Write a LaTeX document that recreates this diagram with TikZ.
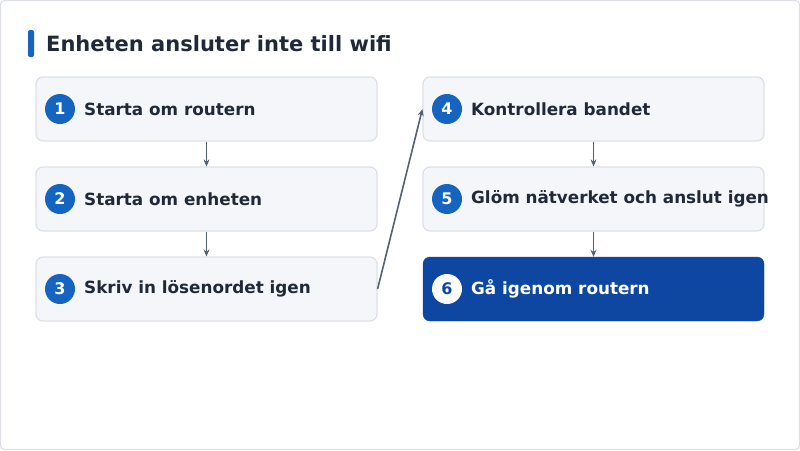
\documentclass[tikz,border=0pt]{standalone}
\usepackage{fontspec}
\setmainfont{DejaVu Sans}
\usetikzlibrary{arrows.meta}
\definecolor{boxfill}{HTML}{F5F6FA}
\definecolor{boxdraw}{HTML}{DDE1E7}
\definecolor{accent}{HTML}{1565C0}
\definecolor{dark}{HTML}{0D47A1}
\definecolor{txt}{HTML}{1F2937}
\definecolor{arr}{HTML}{556070}
\begin{document}
\begin{tikzpicture}[x=1pt,y=-1pt,
  stepbox/.style={draw=boxdraw,line width=1.2pt,fill=boxfill,rounded corners=7pt,minimum width=341pt,minimum height=64pt,inner sep=0pt},
  last/.style={fill=dark,draw=dark,rounded corners=7pt,minimum width=341pt,minimum height=64pt,inner sep=0pt},
  num/.style={circle,fill=accent,text=white,minimum size=30pt,inner sep=0pt,font=\bfseries\fontsize{16}{18}\selectfont},
  numw/.style={circle,fill=white,text=dark,minimum size=30pt,inner sep=0pt,font=\bfseries\fontsize{16}{18}\selectfont},
  lab/.style={anchor=west,text=txt,font=\bfseries\fontsize{16.8}{19}\selectfont,inner sep=0pt},
  con/.style={draw=arr,line width=1.6pt,-{Stealth[length=7pt,width=6pt]}}]
\useasboundingbox (0,0) rectangle (800,450);
\draw[draw=boxdraw,fill=white,line width=1.2pt,rounded corners=4pt] (0.5,0.5) rectangle (799.5,449.5);
\fill[accent,rounded corners=2pt] (28,30) rectangle (34,57);
\node[anchor=west,text=txt,font=\bfseries\fontsize{21}{24}\selectfont,inner sep=0pt] (title) at (46,44) {Enheten ansluter inte till wifi};
\node[stepbox] (b1) at (206.5,109) {};
\node[stepbox] (b2) at (206.5,199) {};
\node[stepbox] (b3) at (206.5,289) {};
\node[stepbox] (b4) at (593.5,109) {};
\node[stepbox] (b5) at (593.5,199) {};
\node[last] (b6) at (593.5,289) {};
\node[num] (n1) at (60,109) {1}; \node[lab] (t1) at (84,109) {Starta om routern};
\node[num] (n2) at (60,199) {2}; \node[lab] (t2) at (84,199) {Starta om enheten};
\node[num] (n3) at (60,289) {3}; \node[lab] (t3) at (84,289) {Skriv in lösenordet igen};
\node[num] (n4) at (447,109) {4}; \node[lab] (t4) at (471,109) {Kontrollera bandet};
\node[num] (n5) at (447,199) {5}; \node[lab] (t5) at (471,199) {Glöm nätverket och anslut igen};
\node[numw] (n6) at (447,289) {6}; \node[lab,text=white] (t6) at (471,289) {Gå igenom routern};
\draw[con] (b1.south) -- (b2.north);
\draw[con] (b2.south) -- (b3.north);
\draw[con] (b4.south) -- (b5.north);
\draw[con] (b5.south) -- (b6.north);
\draw[con] (b3.east) -- (b4.west);
\end{tikzpicture}
\end{document}
